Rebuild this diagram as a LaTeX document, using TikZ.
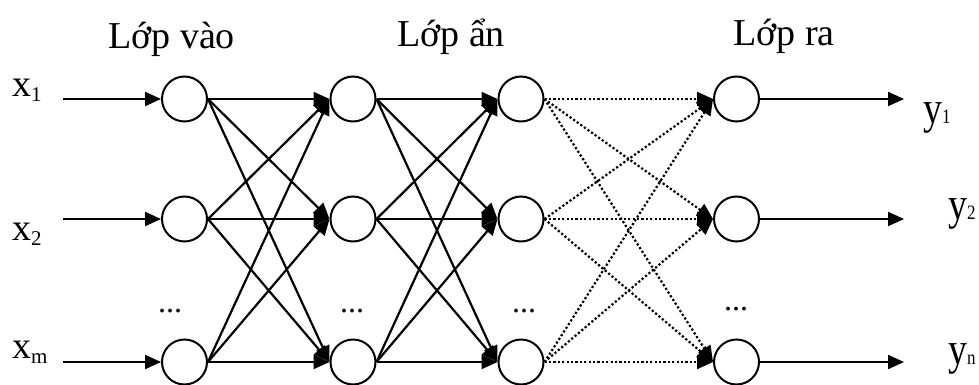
\documentclass[tikz,border=0pt]{standalone}
\usepackage{fontspec}
\usepackage{graphicx}
\setmainfont{Liberation Serif}
\usetikzlibrary{arrows.meta}
\begin{document}
\begin{tikzpicture}[x=1pt,y=-1pt,
  neuron/.style={circle,draw,line width=2pt,minimum size=45pt,inner sep=0pt},
  link/.style={line width=2.2pt,-{Triangle[length=16pt,width=14pt]}},
  dotlink/.style={link,dash pattern=on 2.2pt off 2.2pt},
  lbl/.style={inner sep=0pt,font=\fontsize{38}{40}\selectfont},
  dots/.style={inner sep=0pt,font=\fontsize{32}{32}\selectfont,anchor=base}]
\useasboundingbox (0,0) rectangle (979,385);
% neurons
\node[neuron] (a1) at (184.5,99) {};
\node[neuron] (a2) at (184.5,219) {};
\node[neuron] (a3) at (184.5,362) {};
\node[neuron] (b1) at (353,99) {};
\node[neuron] (b2) at (353,219) {};
\node[neuron] (b3) at (353,362) {};
\node[neuron] (c1) at (521,99) {};
\node[neuron] (c2) at (521,219) {};
\node[neuron] (c3) at (521,362) {};
\node[neuron] (d1) at (736.5,99) {};
\node[neuron] (d2) at (736.5,219) {};
\node[neuron] (d3) at (736.5,362) {};
% inputs / outputs
\coordinate (i1) at (63,99);
\coordinate (i2) at (63,219);
\coordinate (i3) at (63,362);
\coordinate (o1) at (904,99);
\coordinate (o2) at (904,219);
\coordinate (o3) at (904,362);
\foreach \k in {1,2,3}{
  \draw[link] (i\k) -- (a\k.west);
  \draw[link] (d\k.east) -- (o\k);
}
\foreach \i in {1,2,3}{
  \foreach \j in {1,2,3}{
    \draw[link] (a\i.east) -- (b\j.west);
    \draw[link] (b\i.east) -- (c\j.west);
    \draw[dotlink] (c\i.east) -- (d\j.west);
  }
}
% titles
\node[lbl,anchor=base west] (t1) at (108,49) {Lớp vào};
\node[lbl,anchor=base west] (t2) at (397,47) {Lớp ẩn};
\node[lbl,anchor=base west] (t3) at (733,46) {Lớp ra};
% input labels
\node[lbl,anchor=base west] (x1) at (12,97) {x\raisebox{-5pt}{\fontsize{21}{21}\selectfont 1}};
\node[lbl,anchor=base west] (x2) at (12,240) {x\raisebox{-5pt}{\fontsize{21}{21}\selectfont 2}};
\node[lbl,anchor=base west] (xm) at (12,358) {x\raisebox{-5pt}{\fontsize{21}{21}\selectfont m}};
% output labels
\node[lbl,anchor=base west] (y1) at (923,124) {\scalebox{1}[1.2]{y\fontsize{17}{17}\selectfont 1}};
\node[lbl,anchor=base west] (y2) at (948,219) {\scalebox{1}[1.2]{y\fontsize{17}{17}\selectfont 2}};
\node[lbl,anchor=base west] (yn) at (948,364) {\scalebox{1}[1.2]{y\fontsize{17}{17}\selectfont n}};
% ellipses
\node[dots] (e1) at (170,312) {...};
\node[dots] (e2) at (352,312) {...};
\node[dots] (e3) at (524,312) {...};
\node[dots] (e4) at (736,310) {...};
\end{tikzpicture}
\end{document}
